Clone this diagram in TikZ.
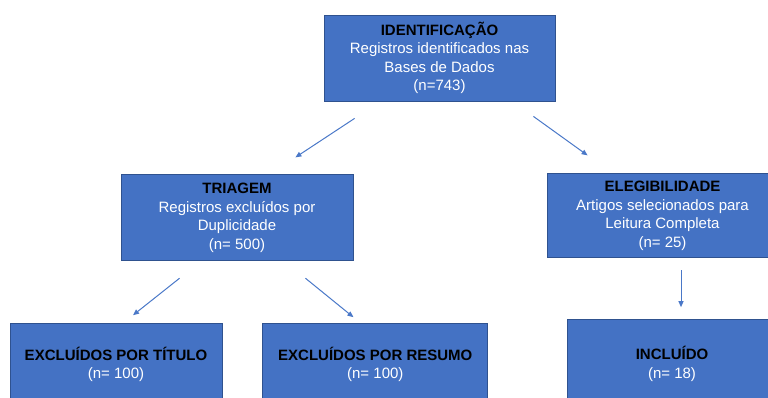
\documentclass[tikz,border=0pt]{standalone}
\usepackage{fontspec}
\setmainfont{Liberation Sans}
\usepackage{xcolor}
\usetikzlibrary{positioning,arrows.meta}
\definecolor{boxblue}{HTML}{4472C4}
\definecolor{boxedge}{HTML}{2F528F}
\definecolor{arrblue}{HTML}{4A78C8}

\begin{document}
\begin{tikzpicture}[
  x=1pt,y=-1pt,
  box/.style={draw=boxedge,line width=0.8pt,fill=boxblue,text=white,align=center,inner sep=2pt,
    minimum width=231pt,minimum height=86pt,font=\fontsize{15pt}{18.5pt}\selectfont},
  arr/.style={-{Triangle[length=6pt,width=5pt]},line width=1pt,color=arrblue}
]
  \useasboundingbox (0,0) rectangle (768,398);
  \clip (0,0) rectangle (768,398);
  \node[box] (ident) at (439.5,58) {\textcolor{black}{\textbf{IDENTIFICAÇÃO}}\\Registros identificados nas\\Bases de Dados\\(n=743)};
  \node[box,minimum width=232pt,below=73pt of ident,xshift=-202.5pt] (triagem) {\textcolor{black}{\textbf{TRIAGEM}}\\Registros excluídos por\\Duplicidade\\(n= 500)};
  \node[box,minimum height=84pt,below=72pt of ident,xshift=223pt] (eleg) {\textcolor{black}{\textbf{ELEGIBILIDADE}}\\Artigos selecionados para\\Leitura Completa\\(n= 25)};
  \node[box,minimum width=212pt,minimum height=82pt,below=62pt of triagem,xshift=-121pt] (titulo) {\textcolor{black}{\textbf{EXCLUÍDOS POR TÍTULO}}\\(n= 100)};
  \node[box,minimum width=225pt,minimum height=82pt,right=40pt of titulo] (resumo) {\textcolor{black}{\textbf{EXCLUÍDOS POR RESUMO}}\\(n= 100)};
  \node[box,minimum width=210pt,minimum height=89pt,below=61pt of eleg,xshift=9.5pt] (incluido) {\textcolor{black}{\textbf{INCLUÍDO}}\\(n= 18)};
  \draw[arr] ([shift={(31,17)}]ident.south west) -- ([shift={(-58,-17)}]triagem.north east);
  \draw[arr] ([shift={(-22,15)}]ident.south east) -- ([shift={(41,-18)}]eleg.north west);
  \draw[arr] ([shift={(18.5,12)}]eleg.south) -- ([shift={(9,-12)}]incluido.north);
  \draw[arr] ([shift={(59,17)}]triagem.south west) -- ([shift={(17,-8)}]titulo.north);
  \draw[arr] ([shift={(-48,17)}]triagem.south east) -- ([shift={(91,-6)}]resumo.north west);
\end{tikzpicture}
\end{document}
